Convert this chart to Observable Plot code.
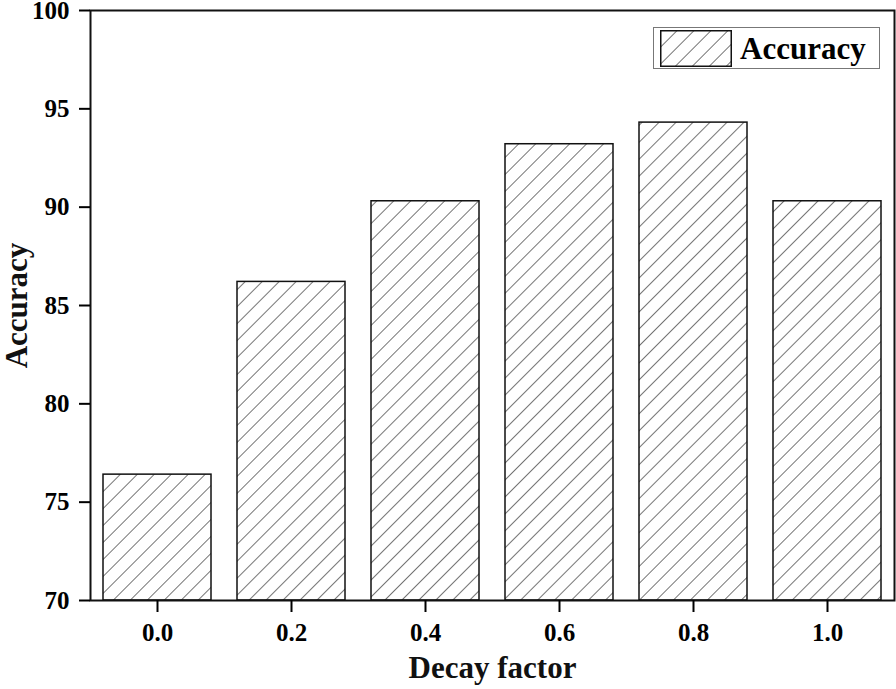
<!DOCTYPE html>
<html>
<head>
<meta charset="utf-8">
<script src="https://cdn.jsdelivr.net/npm/d3@7"></script>
<script src="https://cdn.jsdelivr.net/npm/@observablehq/plot@0.6"></script>
<style>
  html, body { margin: 0; padding: 0; background: #fff; }
  #wrap { position: relative; width: 896px; height: 689px; }
  #legend { position: absolute; left: 653px; top: 27px; width: 227px; height: 42px;
            box-sizing: border-box; border: 1.5px solid #777; background: #fff;
            display: flex; align-items: center; }
  #legend svg { margin-left: 6px; }
  #legend span { font-family: "Liberation Serif", serif; font-weight: bold; font-size: 31px;
                 margin-left: 8px; line-height: 1; }
</style>
</head>
<body>
<div id="wrap"></div>
<script>
const categories = ["0.0", "0.2", "0.4", "0.6", "0.8", "1.0"];
const accuracy = [76.4, 86.2, 90.3, 93.2, 94.3, 90.3];
const yTicks = [70, 75, 80, 85, 90, 95, 100];
const seriesName = "Accuracy";
const xTitle = "Decay factor";
const yTitle = "Accuracy";

const data = categories.map((c, i) => ({factor: c, value: accuracy[i]}));
const font = "Liberation Serif, Times New Roman, serif";

const chart = Plot.plot({
  width: 896,
  height: 689,
  marginLeft: 90,
  marginRight: 2,
  marginTop: 10,
  marginBottom: 89,
  style: {fontFamily: font, background: "#fff", overflow: "visible"},
  x: {domain: categories, paddingInner: 0.195, paddingOuter: 0.095, label: null},
  y: {domain: [70, 100], label: null},
  marks: [
    Plot.barY(data, {x: "factor", y1: 70, y2: "value", fill: "url(#hatch)", stroke: "#111", strokeWidth: 1.5}),
    Plot.frame({stroke: "#111", strokeWidth: 2}),
    Plot.axisY({ticks: yTicks, tickSize: 11, tickPadding: 10, fontSize: 25, fontWeight: "bold", strokeWidth: 2, label: null, tickFormat: d => String(d)}),
    Plot.axisX({tickSize: 12, tickPadding: 11, fontSize: 25, fontWeight: "bold", strokeWidth: 2, label: null}),
    Plot.text([yTitle], {frameAnchor: "left", textAnchor: "middle", text: d => d, rotate: -90, dx: -73, fontSize: 31, fontWeight: "bold", fill: "#111"}),
    Plot.text([xTitle], {frameAnchor: "bottom", textAnchor: "middle", text: d => d, dy: 77, fontSize: 31, fontWeight: "bold", fill: "#111"})
  ]
});

// hatch pattern definition
const ns = "http://www.w3.org/2000/svg";
const defs = document.createElementNS(ns, "defs");
defs.innerHTML = `<pattern id="hatch" patternUnits="userSpaceOnUse" width="12" height="12" patternTransform="rotate(45)">
  <rect width="12" height="12" fill="#fff"/>
  <line x1="0" y1="0" x2="0" y2="12" stroke="#2a2a2a" stroke-width="1.3"/>
</pattern>`;
chart.insertBefore(defs, chart.firstChild);

const wrap = document.getElementById("wrap");
wrap.appendChild(chart);

const legend = document.createElement("div");
legend.id = "legend";
legend.innerHTML = `<svg width="72" height="37"><defs><pattern id="lh" patternUnits="userSpaceOnUse" width="12" height="12" patternTransform="rotate(45)"><rect width="12" height="12" fill="#fff"/><line x1="0" y1="0" x2="0" y2="12" stroke="#2a2a2a" stroke-width="1.3"/></pattern></defs><rect x="0.75" y="0.75" width="70.5" height="35.5" fill="url(#lh)" stroke="#111" stroke-width="1.5"/></svg><span>${seriesName}</span>`;
wrap.appendChild(legend);
</script>
</body>
</html>
